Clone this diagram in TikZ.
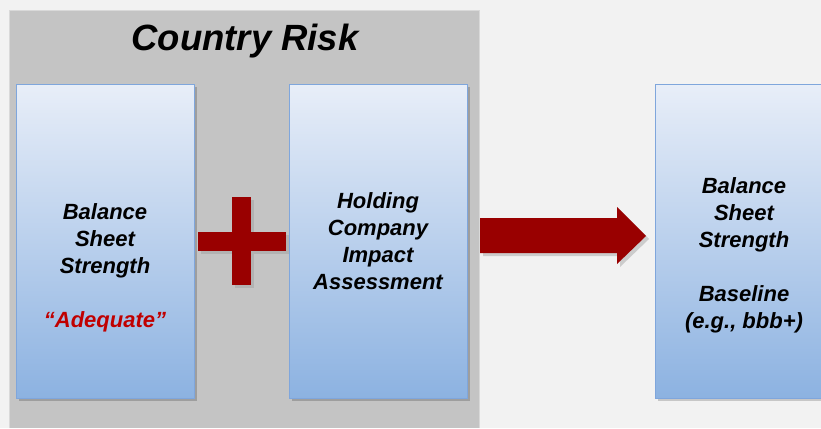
\documentclass[tikz,border=0pt]{standalone}
\usepackage{fontspec}
\setmainfont{Liberation Sans}
\definecolor{pagebg}{HTML}{F2F2F2}
\definecolor{panelbg}{HTML}{C4C4C4}
\definecolor{boxtop}{HTML}{E8EEF8}
\definecolor{boxbot}{HTML}{8CB2E1}
\definecolor{boxline}{HTML}{7FA6DC}
\definecolor{darkred}{HTML}{990000}
\definecolor{textred}{HTML}{C00000}
\tikzset{
  bluebox/.style={draw=boxline, line width=0.8pt, top color=boxtop, bottom color=boxbot, minimum width=178pt, minimum height=314pt, inner sep=0pt},
  shadowbox/.style={fill=black!38, draw=none, minimum width=178pt, minimum height=314pt, inner sep=0pt},
  boxtext/.style={align=center, font=\fontsize{22}{27}\selectfont\bfseries\itshape, inner sep=0pt},
  titletext/.style={font=\fontsize{36.5}{40}\selectfont\bfseries\itshape, inner sep=0pt},
  redshape/.style={fill=darkred, draw=none},
}
\begin{document}
\begin{tikzpicture}[x=1pt,y=-1pt]
\useasboundingbox (0,0) rectangle (821,428);
\fill[pagebg] (0,0) rectangle (821,428);
% panel
\fill[panelbg] (9,10) rectangle (479,428);
\draw[black!15, line width=0.6pt] (9,428) -- (9,10) -- (479,10) -- (479,428);
\node[titletext] (title) at (245,41) {Country Risk};
% shadows
\node[shadowbox] (s1) at (108,244) {};
\node[shadowbox] (s2) at (381,244) {};
\node[shadowbox, fill=black!22] (s3) at (747,244) {};
% boxes
\node[bluebox] (b1) at (105,241) {};
\node[bluebox] (b2) at (378,241) {};
\node[bluebox] (b3) at (744,241) {};
% texts
\node[boxtext] (t1) at (105,268) {Balance\\Sheet\\Strength\\[27pt]\textcolor{textred}{“Adequate”}};
\node[boxtext] (t2) at (378,241) {Holding\\Company\\Impact\\Assessment};
\node[boxtext] (t3) at (744,255) {Balance\\Sheet\\Strength\\[27pt]Baseline\\(e.g., bbb+)};
% plus sign with shadow
\fill[black!30] (235,200) rectangle (254,288);
\fill[black!30] (201,235) rectangle (289,254);
\fill[redshape] (232,197) rectangle (251,285);
\fill[redshape] (198,232) rectangle (286,251);
% block arrow with shadow
\fill[black!20] (483,221) -- (620,221) -- (620,210) -- (649,239) -- (620,267) -- (620,256) -- (483,256) -- cycle;
\fill[redshape] (480,218) -- (617,218) -- (617,207) -- (646,236) -- (617,264) -- (617,253) -- (480,253) -- cycle;
\end{tikzpicture}
\end{document}
